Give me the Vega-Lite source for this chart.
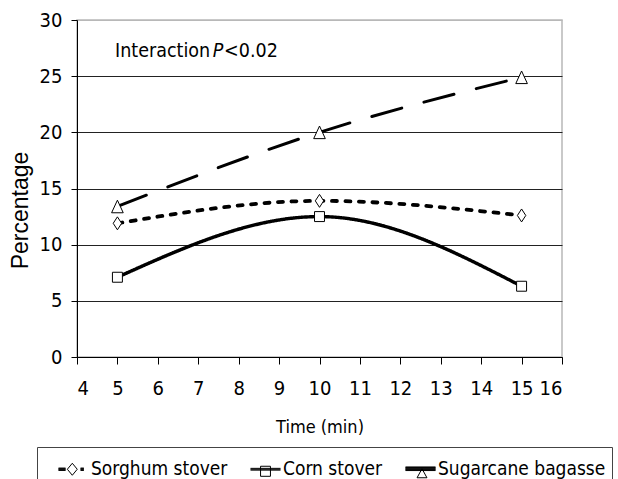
{
  "$schema": "https://vega.github.io/schema/vega-lite/v6.json",
  "width": 485,
  "height": 337,
  "autosize": {"type": "none"},
  "padding": {"left": 77, "top": 20, "right": 56, "bottom": 122},
  "background": "white",
  "config": {
    "view": {"stroke": "#b8b8b8", "strokeWidth": 1.5},
    "axis": {"domainColor": "#000", "tickColor": "#000", "labelColor": "#000", "titleColor": "#000", "titleFontWeight": "normal"},
    "legend": {"titleFontWeight": "normal"}
  },
  "datasets": {
    "main": [
      {"series": "Sorghum stover", "t": 5, "pct": 11.9},
      {"series": "Sorghum stover", "t": 10, "pct": 13.9},
      {"series": "Sorghum stover", "t": 15, "pct": 12.6},
      {"series": "Corn stover", "t": 5, "pct": 7.1},
      {"series": "Corn stover", "t": 10, "pct": 12.5},
      {"series": "Corn stover", "t": 15, "pct": 6.3},
      {"series": "Sugarcane bagasse", "t": 5, "pct": 13.4},
      {"series": "Sugarcane bagasse", "t": 10, "pct": 20.0},
      {"series": "Sugarcane bagasse", "t": 15, "pct": 24.9}
    ],
    "note": [{"label": "Interaction P<0.02"}]
  },
  "data": {"name": "main"},
  "resolve": {"scale": {"shape": "independent"}},
  "layer": [
    {
      "mark": {"type": "line", "interpolate": "monotone", "strokeCap": "round", "color": "#000"},
      "encoding": {
        "x": {"field": "t", "type": "quantitative", "scale": {"domain": [4, 16], "nice": false},
          "axis": {"values": [4,5,6,7,8,9,10,11,12,13,14,15,16], "title": "Time (min)", "grid": false, "tickSize": 7,
            "labelFont": "DejaVu Sans Condensed", "labelFontSize": 20, "labelPadding": 14,
            "titleFont": "DejaVu Sans Condensed", "titleFontSize": 18, "titlePadding": 20}},
        "y": {"field": "pct", "type": "quantitative", "scale": {"domain": [0, 30], "nice": false},
          "axis": {"values": [0,5,10,15,20,25,30], "title": "Percentage", "grid": true,
            "gridColor": {"condition": {"test": "datum.value === 30", "value": "#b8b8b8"}, "value": "#222"},
            "gridWidth": 1.2, "tickSize": 6,
            "labelFont": "DejaVu Sans Condensed", "labelFontSize": 20, "labelPadding": 9,
            "titleFont": "Liberation Sans", "titleFontSize": 23, "titlePadding": 7, "titleY": 190}},
        "detail": {"field": "series"},
        "strokeDash": {"field": "series", "type": "nominal",
          "scale": {"domain": ["Sorghum stover", "Corn stover", "Sugarcane bagasse"], "range": [[5, 8.5], [1, 0], [31, 23]]},
          "legend": null},
        "strokeWidth": {"field": "series", "type": "nominal",
          "scale": {"domain": ["Sorghum stover", "Corn stover", "Sugarcane bagasse"], "range": [3.8, 3, 6.5]},
          "legend": null}
      }
    },
    {
      "mark": {"type": "point", "filled": true, "fill": "white", "stroke": "#000", "strokeWidth": 1, "size": 144, "opacity": 1},
      "encoding": {
        "x": {"field": "t", "type": "quantitative"},
        "y": {"field": "pct", "type": "quantitative"},
        "shape": {"field": "series", "type": "nominal",
          "scale": {"domain": ["Sorghum stover", "Corn stover", "Sugarcane bagasse"],
            "range": ["M0,-1.08L0.7,0L0,1.08L-0.7,0Z", "M-0.83,-0.83H0.83V0.83H-0.83Z", "M0,-1.05L0.97,1.05L-0.97,1.05Z"]},
          "legend": null}
      }
    },
    {
      "transform": [{"filter": "datum.t < 0"}],
      "mark": {"type": "point", "filled": true, "fill": "white", "stroke": "#000", "strokeWidth": 1, "opacity": 1},
      "encoding": {
        "x": {"field": "t", "type": "quantitative"},
        "y": {"field": "pct", "type": "quantitative"},
        "shape": {"field": "series", "type": "nominal",
          "scale": {"domain": ["Sorghum stover", "Corn stover", "Sugarcane bagasse"],
            "range": [
              "M-1,-0.08H-0.53M-1,-0.04H-0.53M-1,0H-0.53M-1,0.04H-0.53M-1,0.08H-0.53M0.47,-0.08H0.69M0.47,-0.04H0.69M0.47,0H0.69M0.47,0.04H0.69M0.47,0.08H0.69M-0.08,-0.4L0.25,0L-0.08,0.4L-0.41,0Z",
              "M-1,-0.06H1M-1,0H1M-1,0.06H1M-0.33,-0.2H0.33V0.47H-0.33Z",
              "M0.1,0L0.43,0.6L-0.23,0.6ZM-1,-0.12H1M-1,-0.08H1M-1,-0.04H1M-1,0H1M-1,0.04H1M-1,0.08H1M-1,0.12H1"
            ]},
          "legend": {"title": null, "orient": "none", "legendX": -40, "legendY": 427, "direction": "horizontal", "columns": 3,
            "padding": 6, "strokeColor": "#444", "symbolSize": 900, "symbolStrokeWidth": 1,
            "symbolOffset": 15, "labelOffset": 2,
            "columnPadding": 7, "labelFont": "DejaVu Sans Condensed", "labelFontSize": 19, "labelColor": "#000", "labelLimit": 300,
            "encode": {"symbols": {"update": {"stroke": {"value": "#000"}, "fill": {"value": "white"}, "strokeWidth": {"value": 1}, "opacity": {"value": 1}}}}}
        }
      }
    },
    {
      "data": {"name": "note"},
      "mark": {"type": "text", "align": "left", "baseline": "middle", "font": "DejaVu Sans Condensed", "fontSize": 19.5, "color": "#000"},
      "encoding": {"x": {"datum": 4.94}, "y": {"datum": 27.2}, "text": {"value": "Interaction"}}
    },
    {
      "data": {"name": "note"},
      "mark": {"type": "text", "align": "left", "baseline": "middle", "font": "DejaVu Sans Condensed", "fontSize": 19.5, "fontStyle": "italic", "color": "#000"},
      "encoding": {"x": {"datum": 7.36}, "y": {"datum": 27.2}, "text": {"value": "P"}}
    },
    {
      "data": {"name": "note"},
      "mark": {"type": "text", "align": "left", "baseline": "middle", "font": "DejaVu Sans Condensed", "fontSize": 19.5, "color": "#000"},
      "encoding": {"x": {"datum": 7.64}, "y": {"datum": 27.2}, "text": {"value": "<0.02"}}
    }
  ]
}
